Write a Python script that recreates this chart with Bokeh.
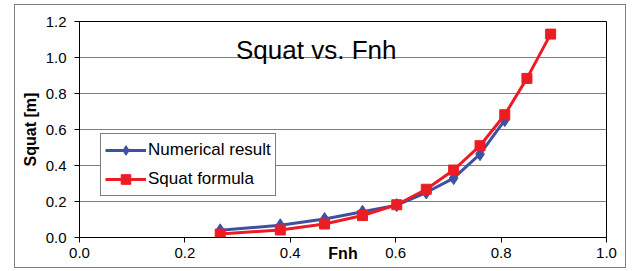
from bokeh.plotting import figure
from bokeh.models import Range1d, FixedTicker, NumeralTickFormatter, Label, Legend
from bokeh.embed import file_html
from bokeh.resources import INLINE

# Data
fnh = [0.267, 0.381, 0.465, 0.537, 0.602, 0.658, 0.710, 0.760, 0.807, 0.849, 0.894]
numerical_fnh = fnh[:9]
numerical_result = [0.040, 0.068, 0.103, 0.143, 0.180, 0.250, 0.330, 0.463, 0.652]
squat_formula = [0.019, 0.042, 0.075, 0.122, 0.182, 0.268, 0.375, 0.510, 0.682, 0.884, 1.130]
x_ticks = [0.0, 0.2, 0.4, 0.6, 0.8, 1.0]
y_ticks = [0.0, 0.2, 0.4, 0.6, 0.8, 1.0, 1.2]

BLUE = "#3E50A2"
RED = "#ED1C24"
FONT = "Liberation Sans"

p = figure(width=612, height=264, output_backend="svg", toolbar_location=None,
           x_range=Range1d(0, 1.0), y_range=Range1d(0, 1.2),
           min_border_left=64, min_border_right=21, min_border_top=16, min_border_bottom=32)
p.margin = (4, 0, 0, 14)
p.styles = {"border": "1px solid #808080"}

p.background_fill_color = "white"
p.border_fill_color = "white"
p.outline_line_color = "black"
p.outline_line_width = 1

p.xgrid.grid_line_color = None
p.ygrid.grid_line_color = "#7f7f7f"
p.ygrid.grid_line_width = 1

p.xaxis.ticker = FixedTicker(ticks=x_ticks)
p.yaxis.ticker = FixedTicker(ticks=y_ticks)
p.xaxis.formatter = NumeralTickFormatter(format="0.0")
p.yaxis.formatter = NumeralTickFormatter(format="0.0")
for ax in (p.xaxis, p.yaxis):
    ax.axis_line_color = "black"
    ax.major_tick_line_color = "black"
    ax.major_tick_out = 5
    ax.major_tick_in = 0
    ax.minor_tick_line_color = None
    ax.major_label_text_font = FONT
    ax.major_label_text_font_size = "15px"
    ax.major_label_text_color = "black"
    ax.axis_label_text_font = FONT
    ax.axis_label_text_font_style = "bold"
    ax.axis_label_text_font_size = "16px"
    ax.axis_label_text_color = "black"
p.xaxis.major_label_standoff = 5
p.yaxis.major_label_standoff = 8
p.xaxis.axis_label = "Fnh"
p.xaxis.axis_label_standoff = -16
p.yaxis.axis_label = "Squat [m]"
p.yaxis.axis_label_standoff = 4

r1 = p.line(numerical_fnh, numerical_result, line_color=BLUE, line_width=3)
r2 = p.scatter(numerical_fnh, numerical_result, marker="diamond", size=13,
               fill_color=BLUE, line_color=BLUE)
r3 = p.line(fnh, squat_formula, line_color=RED, line_width=3)
r4 = p.scatter(fnh, squat_formula, marker="square", size=10,
               fill_color=RED, line_color=RED)

legend = Legend(items=[("Numerical result", [r1, r2]), ("Squat formula", [r3, r4])],
                location=(21, 41), orientation="vertical")
legend.margin = 0
legend.padding = 4
legend.spacing = 5
legend.glyph_width = 41
legend.glyph_height = 24
legend.label_height = 24
legend.label_standoff = 2
legend.label_text_font = FONT
legend.label_text_font_size = "17px"
legend.label_text_color = "black"
legend.border_line_color = "black"
legend.border_line_width = 1
legend.background_fill_color = "white"
legend.background_fill_alpha = 1
p.add_layout(legend, "center")

title = Label(x=0.297, y=1.039, text="Squat vs. Fnh", text_font=FONT,
              text_font_size="26px", text_color="black", text_baseline="alphabetic")
p.add_layout(title)

open("out.html", "w").write(file_html(p, INLINE))
